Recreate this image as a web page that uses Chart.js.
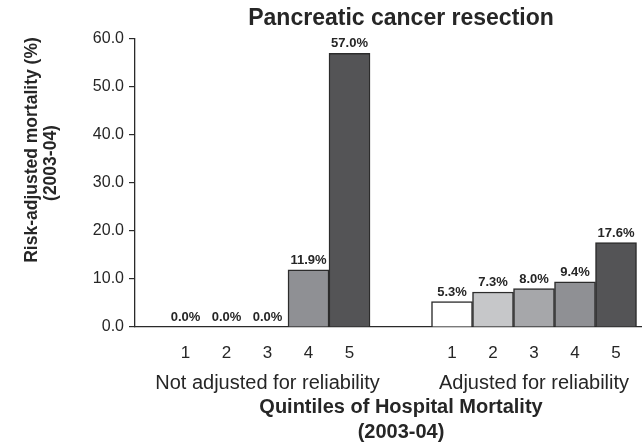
<!DOCTYPE html>
<html>
<head>
<meta charset="utf-8">
<script src="https://cdn.jsdelivr.net/npm/chart.js@4.4.1/dist/chart.umd.min.js"></script>
<style>
  html, body { margin: 0; padding: 0; background: #fff; }
  #wrap { width: 642px; height: 442px; }
</style>
</head>
<body>
<div id="wrap"><canvas id="chart" width="642" height="442"></canvas></div>
<script>
// --- chart values ---
const chartTitle = 'Pancreatic cancer resection';
const yTitleLines = ['Risk-adjusted mortality (%)', '(2003-04)'];
const xTitleLines = ['Quintiles of Hospital Mortality', '(2003-04)'];
const quintileLabels = ['1', '2', '3', '4', '5'];
const groupLabels = ['Not adjusted for reliability', 'Adjusted for reliability'];
const notAdjustedMortality = [0.0, 0.0, 0.0, 11.9, 57.0];
const adjustedMortality = [5.3, 7.3, 8.0, 9.4, 17.6];
const yTickValues = [0, 10, 20, 30, 40, 50, 60];

// bar fills per quintile (white -> dark)
const quintileColors = ['#ffffff', '#c6c7c9', '#a6a7aa', '#8f9094', '#545456'];

const FONT = '"Liberation Sans", Arial, Helvetica, sans-serif';
const INK = '#262626';

// group 2 starts 6.5 bar-widths after group 1
const GROUP_OFFSETS = [0, 6.5];
const X_MIN = -1.232;
const X_MAX = 11.134;

function groupPoints(values, g) {
  return values.map((v, i) => ({ x: GROUP_OFFSETS[g] + i, y: v }));
}

const quintilePositions = GROUP_OFFSETS.flatMap(o => quintileLabels.map((_, i) => o + i));
const groupCenters = GROUP_OFFSETS.map(o => o + (quintileLabels.length - 1) / 2);

// value labels above each bar
const valueLabels = {
  id: 'valueLabels',
  afterDatasetsDraw(chart) {
    const ctx = chart.ctx;
    ctx.save();
    ctx.font = 'bold 13px ' + FONT;
    ctx.fillStyle = INK;
    ctx.textAlign = 'center';
    ctx.textBaseline = 'alphabetic';
    chart.data.datasets.forEach((ds, di) => {
      const meta = chart.getDatasetMeta(di);
      meta.data.forEach((el, i) => {
        ctx.fillText(ds.data[i].y.toFixed(1) + '%', el.x, el.y - 6);
      });
    });
    ctx.restore();
  }
};

// chart title and axis titles, placed like the original figure
const figureTitles = {
  id: 'figureTitles',
  afterDraw(chart) {
    const ctx = chart.ctx;
    ctx.save();
    ctx.fillStyle = INK;
    ctx.textAlign = 'center';
    ctx.textBaseline = 'middle';

    ctx.font = 'bold 23px ' + FONT;
    ctx.fillText(chartTitle, 401, 19);

    ctx.font = 'bold 20px ' + FONT;
    ctx.fillText(xTitleLines[0], 401, 407);
    ctx.fillText(xTitleLines[1], 401, 432);

    ctx.font = 'bold 17.5px ' + FONT;
    ctx.translate(32, 150);
    ctx.rotate(-Math.PI / 2);
    ctx.fillText(yTitleLines[0], 0, 0);
    ctx.fillText(yTitleLines[1], -13, 19);
    ctx.restore();
  }
};

const ctx = document.getElementById('chart').getContext('2d');
const chart = new Chart(ctx, {
  type: 'bar',
  data: {
    datasets: [
      {
        label: groupLabels[0],
        data: groupPoints(notAdjustedMortality, 0),
        backgroundColor: quintileColors,
        borderColor: '#2c2c2c',
        borderWidth: 1.5,
        borderSkipped: 'bottom',
        grouped: false,
        barPercentage: 1,
        categoryPercentage: 1
      },
      {
        label: groupLabels[1],
        data: groupPoints(adjustedMortality, 1),
        backgroundColor: quintileColors,
        borderColor: '#2c2c2c',
        borderWidth: 1.5,
        borderSkipped: 'bottom',
        grouped: false,
        barPercentage: 1,
        categoryPercentage: 1
      }
    ]
  },
  options: {
    responsive: false,
    animation: false,
    devicePixelRatio: 1,
    layout: { padding: { top: 39, left: 70, right: 0, bottom: 0 } },
    plugins: {
      legend: { display: false },
      tooltip: { enabled: false },
      title: { display: false }
    },
    scales: {
      x: {
        type: 'linear',
        min: X_MIN,
        max: X_MAX,
        offset: false,
        weight: 0,
        afterBuildTicks: (scale) => { scale.ticks = quintilePositions.map(v => ({ value: v })); },
        afterFit: (scale) => { scale.height = 32; },
        grid: { display: false, offset: false },
        border: { display: true, color: '#2a2a2a', width: 1.3 },
        ticks: {
          autoSkip: false,
          maxRotation: 0,
          padding: 8,
          color: INK,
          font: { family: FONT, size: 17 },
          callback: (v, i) => quintileLabels[i % quintileLabels.length]
        }
      },
      x2: {
        type: 'linear',
        axis: 'x',
        position: 'bottom',
        min: X_MIN,
        max: X_MAX,
        offset: false,
        weight: 1,
        afterBuildTicks: (scale) => { scale.ticks = groupCenters.map(v => ({ value: v })); },
        afterFit: (scale) => { scale.height = 83; },
        grid: { display: false, offset: false },
        border: { display: false },
        ticks: {
          autoSkip: false,
          maxRotation: 0,
          padding: 4,
          color: INK,
          font: { family: FONT, size: 20 },
          callback: (v, i) => groupLabels[i]
        }
      },
      y: {
        min: 0,
        max: 60,
        afterBuildTicks: (scale) => { scale.ticks = yTickValues.map(v => ({ value: v })); },
        afterFit: (scale) => { scale.width = 65; },
        grid: { drawOnChartArea: false, drawTicks: true, tickLength: 6, color: '#2a2a2a', lineWidth: 1.2 },
        border: { display: true, color: '#2a2a2a', width: 1.3 },
        ticks: {
          padding: 5,
          color: INK,
          font: { family: FONT, size: 16 },
          callback: (v) => Number(v).toFixed(1)
        }
      }
    }
  },
  plugins: [valueLabels, figureTitles]
});
</script>
</body>
</html>
